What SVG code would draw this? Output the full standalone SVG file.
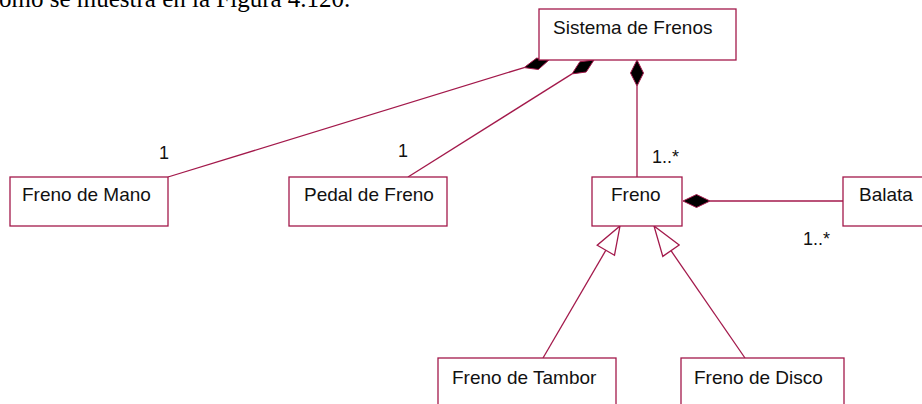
<svg xmlns="http://www.w3.org/2000/svg" width="922" height="404" viewBox="0 0 922 404">
<style>
.box{fill:#fff;stroke:#A3194B;stroke-width:1.3}
.lbl{font-family:"Liberation Sans",Arial,sans-serif;font-size:19px;fill:#111}
.mult{font-family:"Liberation Sans",Arial,sans-serif;font-size:18px;fill:#111}
.ln{stroke:#A3194B;stroke-width:1.3;fill:none}
.dia{fill:#000;stroke:#A3194B;stroke-width:1}
.tri{fill:#fff;stroke:#A3194B;stroke-width:1.3}
.para{font-family:"Liberation Serif","Times New Roman",serif;font-size:25px;fill:#000}
</style>
<rect width="922" height="404" fill="#fff"/>
<text class="para" x="-1" y="7">omo se muestra en la Figura 4.120.</text>
<g id="connectors">
<line class="ln" x1="168" y1="177" x2="524.1" y2="67.6"/>
<polygon class="dia" points="549,60 536.6,58.1 524.1,67.6 538.3,69.5"/>
<line class="ln" x1="408" y1="177" x2="572" y2="73.9"/>
<polygon class="dia" points="594,60 579.8,61.8 572,73.9 586.2,72"/>
<line class="ln" x1="637" y1="86" x2="637" y2="177"/>
<polygon class="dia" points="637,60 643.5,73 637,86 630.5,73"/>
<line class="ln" x1="710" y1="201" x2="843" y2="201"/>
<polygon class="dia" points="683,201 696.5,194.5 710,201 696.5,207.5"/>
<line class="ln" x1="543" y1="358" x2="605.9" y2="250.2"/>
<polygon class="tri" points="620,226 614.5,255.2 597.2,245.2"/>
<line class="ln" x1="745" y1="358" x2="671" y2="250.7"/>
<polygon class="tri" points="654,226 679.2,245 662.8,256.4"/>
<text class="mult" x="159" y="159">1</text>
<text class="mult" x="398" y="157">1</text>
<text class="mult" x="652" y="163">1..*</text>
<text class="mult" x="803" y="245">1..*</text>
</g>
<g id="sistema"><rect class="box" x="539" y="9" width="197" height="51"/><text class="lbl" x="553" y="34">Sistema de Frenos</text></g>
<g id="freno-mano"><rect class="box" x="10" y="177" width="158" height="49"/><text class="lbl" x="22" y="201">Freno de Mano</text></g>
<g id="pedal"><rect class="box" x="289" y="177" width="158" height="49"/><text class="lbl" x="304" y="201">Pedal de Freno</text></g>
<g id="freno"><rect class="box" x="592" y="177" width="90" height="49"/><text class="lbl" x="611" y="201">Freno</text></g>
<g id="balata"><rect class="box" x="843" y="177" width="90" height="49"/><text class="lbl" x="859" y="201">Balata</text></g>
<g id="tambor"><rect class="box" x="438" y="358" width="178" height="52"/><text class="lbl" x="452" y="384">Freno de Tambor</text></g>
<g id="disco"><rect class="box" x="681" y="358" width="163" height="52"/><text class="lbl" x="694" y="384">Freno de Disco</text></g>
</svg>
